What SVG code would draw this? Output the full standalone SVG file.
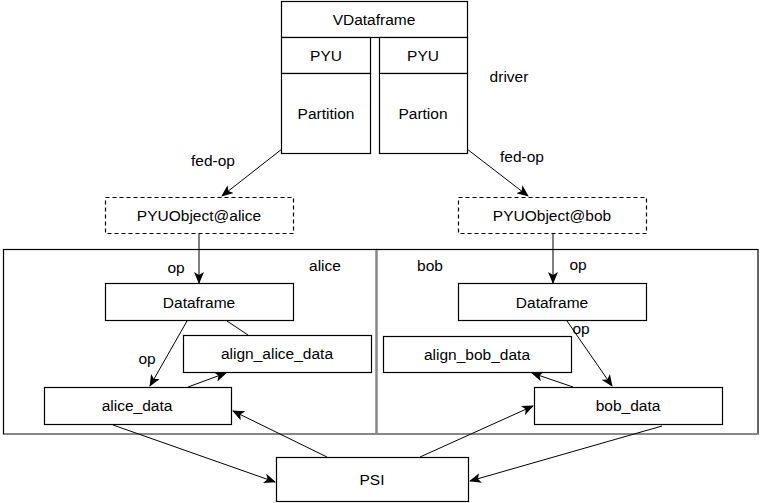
<svg xmlns="http://www.w3.org/2000/svg" width="763" height="503" viewBox="0 0 763 503">
<defs>
<style>
text{font-family:"Liberation Sans",Arial,Helvetica,sans-serif;font-size:15.5px;fill:#000;text-anchor:middle}
.box{fill:#fff;stroke:#000;stroke-width:1.2}
.dash{fill:#fff;stroke:#000;stroke-width:1.2;stroke-dasharray:4 3}
.ln{fill:none;stroke:#000;stroke-width:1}
.arr{fill:none;stroke:#000;stroke-width:1;marker-end:url(#ah)}
</style>
<marker id="ah" markerUnits="userSpaceOnUse" markerWidth="12" markerHeight="10" viewBox="0 0 12 10" refX="11" refY="5" orient="auto">
<path d="M0,0 L12,5 L0,10 L3,5 Z" fill="#000"/>
</marker>
</defs>
<rect width="763" height="503" fill="#fff"/>
<g id="containers">
<rect x="3.5" y="249.5" width="373" height="184.5" fill="none" stroke="#000" stroke-width="1.2"/>
<rect x="376.5" y="249.5" width="381.5" height="184.5" fill="none" stroke="#000" stroke-width="1.2"/>
<line x1="376.5" y1="250" x2="376.5" y2="434" stroke="#888" stroke-width="2.2"/>
<line x1="4" y1="434" x2="758" y2="434" stroke="#888" stroke-width="2"/>
<text x="325" y="271">alice</text>
<text x="430" y="271">bob</text>
</g>
<g id="vdataframe">
<rect class="box" x="281.5" y="1.5" width="186" height="36"/>
<text x="374" y="25">VDataframe</text>
</g>
<g id="pyu-left">
<rect class="box" x="281.5" y="37.5" width="89" height="36"/>
<text x="326" y="61">PYU</text>
</g>
<g id="partition-left">
<rect class="box" x="281.5" y="73.5" width="89" height="80"/>
<text x="326" y="119">Partition</text>
</g>
<g id="pyu-right">
<rect class="box" x="379.5" y="37.5" width="88" height="36"/>
<text x="423" y="61">PYU</text>
</g>
<g id="partition-right">
<rect class="box" x="379.5" y="73.5" width="88" height="80"/>
<text x="423" y="119">Partion</text>
</g>
<g id="driver-label"><text x="509" y="82">driver</text></g>
<g id="pyuobject-alice">
<rect class="dash" x="105.5" y="197.5" width="188" height="36"/>
<text x="199" y="221">PYUObject@alice</text>
</g>
<g id="pyuobject-bob">
<rect class="dash" x="458.5" y="197.5" width="188" height="36"/>
<text x="552" y="221">PYUObject@bob</text>
</g>
<g id="dataframe-alice">
<rect class="box" x="105.5" y="283.5" width="188" height="37"/>
<text x="199" y="308">Dataframe</text>
</g>
<g id="dataframe-bob">
<rect class="box" x="458.5" y="283.5" width="188" height="37"/>
<text x="552" y="308">Dataframe</text>
</g>
<g id="align-alice-data">
<rect class="box" x="183.5" y="335.5" width="188" height="37"/>
<text x="277" y="359">align_alice_data</text>
</g>
<g id="align-bob-data">
<rect class="box" x="383.5" y="336.5" width="188" height="36"/>
<text x="477" y="360">align_bob_data</text>
</g>
<g id="alice-data">
<rect class="box" x="44.5" y="387.5" width="187" height="37"/>
<text x="137" y="411">alice_data</text>
</g>
<g id="bob-data">
<rect class="box" x="534.5" y="387.5" width="188" height="37"/>
<text x="628" y="411">bob_data</text>
</g>
<g id="psi">
<rect class="box" x="276.5" y="457.5" width="192" height="44"/>
<text x="372" y="485">PSI</text>
</g>
<g id="connectors">
<line class="arr" x1="282" y1="149" x2="222" y2="196"/>
<line class="arr" x1="467" y1="149" x2="528" y2="196"/>
<line class="arr" x1="199" y1="234" x2="199" y2="283"/>
<line class="arr" x1="553" y1="234" x2="553" y2="283"/>
<line class="arr" x1="187" y1="321" x2="150" y2="386"/>
<line class="ln" x1="227" y1="321" x2="248" y2="335"/>
<line class="arr" x1="188" y1="387" x2="226" y2="373"/>
<line class="arr" x1="567" y1="321" x2="612" y2="386"/>
<line class="arr" x1="573" y1="387" x2="532" y2="373"/>
<line class="arr" x1="113" y1="425" x2="275" y2="482"/>
<line class="arr" x1="327" y1="457" x2="233" y2="411"/>
<line class="arr" x1="420" y1="457" x2="533" y2="406"/>
<line class="arr" x1="662" y1="426" x2="470" y2="481"/>
<text x="213" y="166">fed-op</text>
<text x="522" y="162">fed-op</text>
<text x="176" y="273">op</text>
<text x="578" y="270">op</text>
<text x="147" y="364">op</text>
<text x="581" y="334">op</text>
</g>
</svg>
